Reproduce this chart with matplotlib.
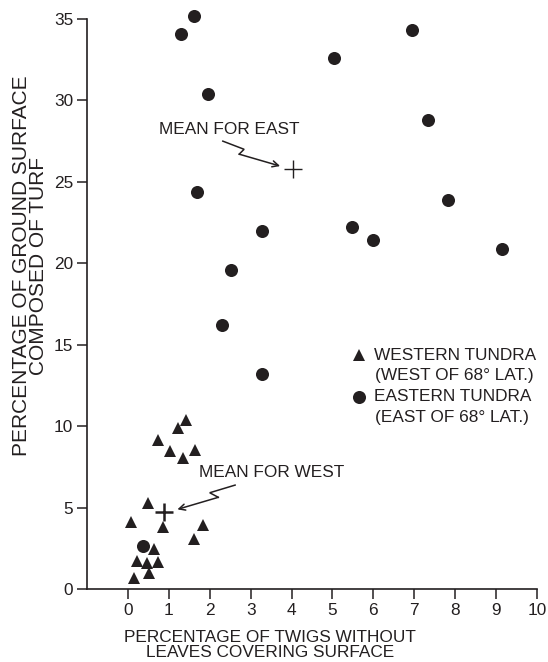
import matplotlib

matplotlib.use("Agg")
import matplotlib.pyplot as plt

plt.rcParams["font.family"] = ["Liberation Sans", "DejaVu Sans"]

INK = "#231f20"
FS = 12.4

# Western tundra (triangles): twigs without leaves (%), turf cover (%)
west_x = [1.43, 1.22, 0.73, 1.03, 1.65, 1.34, 0.48, 0.07, 0.86, 1.83,
          1.62, 0.63, 0.23, 0.47, 0.74, 0.15, 0.51]
west_y = [10.4, 9.86, 9.14, 8.47, 8.53, 8.02, 5.29, 4.13, 3.82, 3.93,
          3.05, 2.43, 1.72, 1.61, 1.67, 0.66, 1.0]

# Eastern tundra (circles)
east_x = [1.61, 1.29, 1.95, 1.68, 6.94, 5.04, 7.33, 7.82, 3.28, 2.52,
          2.31, 3.28, 5.48, 5.98, 9.14, 0.37]
east_y = [35.2, 34.1, 30.4, 24.4, 34.3, 32.6, 28.8, 23.9, 22.0, 19.6,
          16.2, 13.2, 22.2, 21.4, 20.9, 2.66]

mean_west = (0.89, 4.71)
mean_east = (4.04, 25.8)

# zig-zag leader lines for the mean labels (last point = arrow tip)
east_leader_x = [2.32, 2.84, 2.72, 3.72]
east_leader_y = [27.5, 27.0, 26.7, 25.97]
west_leader_x = [2.62, 2.00, 2.21, 1.21]
west_leader_y = [6.38, 5.91, 5.63, 4.89]

x_ticks = list(range(0, 11))
y_ticks = list(range(0, 36, 5))

fig = plt.figure(figsize=(5.48, 6.62), dpi=100)
ax = fig.add_axes([87 / 548, 1 - 589 / 662, 450 / 548, 570 / 662])

ax.plot(west_x, west_y, "^", color=INK, markersize=8.5, markeredgewidth=0,
        clip_on=False, zorder=3)
ax.plot(east_x, east_y, "o", color=INK, markersize=9.4, markeredgewidth=0,
        clip_on=False, zorder=3)
ax.plot(*mean_east, "+", color=INK, markersize=13, markeredgewidth=1.0, zorder=4)
ax.plot(*mean_west, "+", color=INK, markersize=13, markeredgewidth=1.8, zorder=4)

for lx, ly in [(east_leader_x, east_leader_y), (west_leader_x, west_leader_y)]:
    ax.plot(lx[:-1], ly[:-1], color=INK, lw=1.1, solid_joinstyle="miter")
    ax.annotate("", xy=(lx[-1], ly[-1]), xytext=(lx[-2], ly[-2]),
                arrowprops=dict(arrowstyle="->", color=INK, lw=1.1,
                                shrinkA=0, shrinkB=0, mutation_scale=11))

ax.text(0.76, 28.2, "MEAN FOR EAST", fontsize=FS, color=INK, va="center")
ax.text(1.74, 7.18, "MEAN FOR WEST", fontsize=FS, color=INK, va="center")

# legend, drawn by hand so the markers sit on the first line
ax.plot(5.65, 14.36, "^", color=INK, markersize=8.5, markeredgewidth=0)
ax.text(6.02, 14.36, "WESTERN TUNDRA", fontsize=FS, color=INK, va="center")
ax.text(6.05, 13.1, "(WEST OF 68\u00b0 LAT.)", fontsize=FS, color=INK, va="center")
ax.plot(5.65, 11.8, "o", color=INK, markersize=9.4, markeredgewidth=0)
ax.text(6.02, 11.8, "EASTERN TUNDRA", fontsize=FS, color=INK, va="center")
ax.text(6.05, 10.55, "(EAST OF 68\u00b0 LAT.)", fontsize=FS, color=INK, va="center")

ax.set_xlim(-1, 10)
ax.set_ylim(0, 35)
ax.set_xticks(x_ticks)
ax.set_yticks(y_ticks)
ax.tick_params(direction="out", length=7, width=1.1, colors=INK, labelsize=FS,
               pad=3)
for side in ("top", "right"):
    ax.spines[side].set_visible(False)
for side in ("left", "bottom"):
    ax.spines[side].set_linewidth(1.2)
    ax.spines[side].set_color(INK)

fig.text(270 / 548, 1 - 645 / 662,
         "PERCENTAGE OF TWIGS WITHOUT\nLEAVES COVERING SURFACE",
         ha="center", va="center", fontsize=FS, color=INK, linespacing=1.05)
fig.text(30 / 548, 1 - 266 / 662,
         "PERCENTAGE OF GROUND SURFACE\nCOMPOSED OF TURF",
         ha="center", va="center", rotation=90, fontsize=15, color=INK,
         linespacing=0.92)

fig.savefig("out.png", dpi=100)
